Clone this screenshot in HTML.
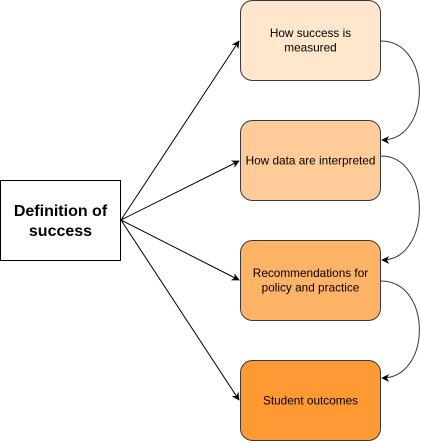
<!DOCTYPE html>
<html><head><style>
body{margin:0;background:#fff;}
svg{display:block;font-family:"Liberation Sans",Arial,sans-serif;}
</style></head><body>
<svg width="421" height="441" viewBox="0 0 421 441" xmlns="http://www.w3.org/2000/svg">
<defs><marker id="a" viewBox="0 0 10 10" refX="9" refY="5" markerWidth="8" markerHeight="8" orient="auto" markerUnits="userSpaceOnUse"><path d="M0,0 L10,5 L0,10 L3,5 Z" fill="#000"/></marker></defs>
<rect x="0.5" y="180.5" width="120" height="80" fill="#fff" stroke="#000"/>
<text x="60.5" y="216" text-anchor="middle" font-size="16" font-weight="bold">Definition of</text>
<text x="60.5" y="236" text-anchor="middle" font-size="16" font-weight="bold">success</text>
<g stroke="#000" fill="none" stroke-width="1">
<line x1="121" y1="220" x2="239" y2="41" marker-end="url(#a)"/>
<line x1="121" y1="220" x2="239" y2="161" marker-end="url(#a)"/>
<line x1="121" y1="220" x2="239" y2="280" marker-end="url(#a)"/>
<line x1="121" y1="220" x2="239" y2="400" marker-end="url(#a)"/>
</g>
<rect x="240.5" y="0.5" width="140" height="80" rx="12" fill="#ffe6cc" stroke="#36393d"/>
<rect x="240.5" y="120.5" width="140" height="80" rx="12" fill="#ffcc99" stroke="#36393d"/>
<rect x="240.5" y="240.5" width="140" height="80" rx="12" fill="#ffb366" stroke="#36393d"/>
<rect x="240.5" y="360.5" width="140" height="80" rx="12" fill="#ff9933" stroke="#36393d"/>
<g font-size="11.8" text-anchor="middle" fill="#000">
<text x="310.5" y="37">How success is</text>
<text x="310.5" y="51.5">measured</text>
<text x="310.5" y="164.5">How data are interpreted</text>
<text x="310.5" y="277">Recommendations for</text>
<text x="310.5" y="291.5">policy and practice</text>
<text x="310.5" y="404.5">Student outcomes</text>
</g>
<g stroke="#36393d" fill="none">
<path d="M381,41 C432,41 432,140 382,140" marker-end="url(#a)"/>
<path d="M381,156 C432,156 432,260 382,260" marker-end="url(#a)"/>
<path d="M381,281 C432,281 432,378 382,378" marker-end="url(#a)"/>
</g>
</svg>
</body></html>
